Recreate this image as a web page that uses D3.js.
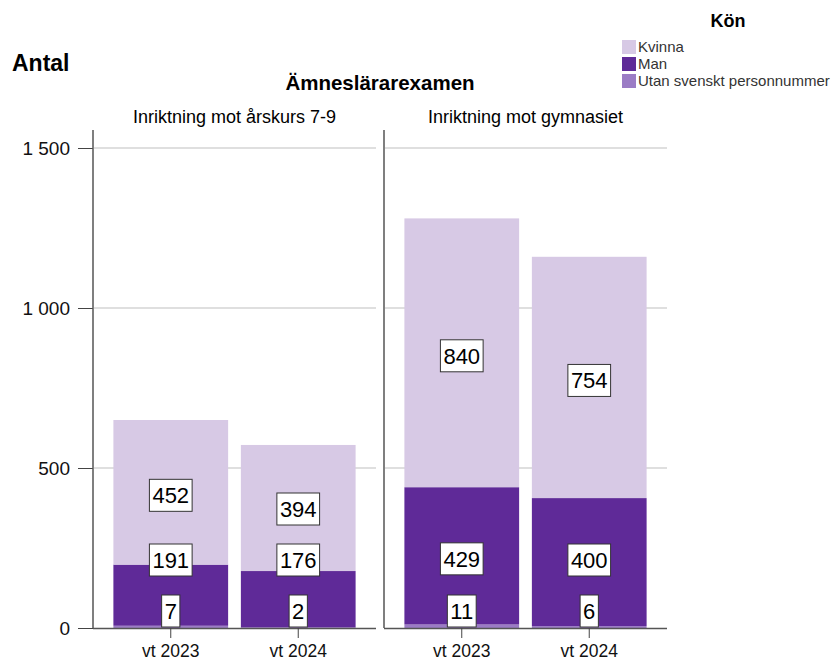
<!DOCTYPE html>
<html>
<head>
<meta charset="utf-8">
<script src="https://cdn.jsdelivr.net/npm/d3@7"></script>
<style>
  body { margin: 0; background: #fff; }
  text { font-family: "Liberation Sans", Arial, sans-serif; }
</style>
</head>
<body>
<div id="chart"></div>
<script>
var width = 833,
    height = 662;

// data
var panels = ["Inriktning mot årskurs 7-9", "Inriktning mot gymnasiet"];
var terms = ["vt 2023", "vt 2024"];
var genders = ["Utan svenskt personnummer", "Man", "Kvinna"];
var utan = [[7, 2], [11, 6]];
var man = [[191, 176], [429, 400]];
var kvinna = [[452, 394], [840, 754]];
var yTicks = [0, 500, 1000, 1500];

var colors = {
    "Kvinna": "#d7c9e5",
    "Man": "#5f2a98",
    "Utan svenskt personnummer": "#9b7cc5"
};

var svg = d3.select("#chart")
    .append("svg")
    .attr("width", width)
    .attr("height", height);

var y = d3.scaleLinear()
    .domain([0, 1500])
    .range([628, 148]);

var panelX = d3.scaleBand()
    .domain(panels)
    .range([93, 667])
    .paddingInner(0.0275);

// titles
svg.append("text")
    .attr("x", 12).attr("y", 71)
    .style("font-size", "23px").style("font-weight", "bold")
    .text("Antal");

svg.append("text")
    .attr("x", 380).attr("y", 90)
    .attr("text-anchor", "middle")
    .style("font-size", "20.5px").style("font-weight", "bold")
    .text("Ämneslärarexamen");

// y axis
var yAxis = d3.axisLeft(y)
    .tickValues(yTicks)
    .tickSize(15)
    .tickPadding(8)
    .tickFormat(function (d) { return d3.format(",")(d).replace(",", " "); });

var yg = svg.append("g")
    .attr("transform", "translate(93,0)")
    .call(yAxis);
yg.select(".domain").remove();
yg.selectAll(".tick line").attr("stroke", "#444");
yg.selectAll(".tick text")
    .style("font-size", "19px")
    .attr("fill", "#111")
    .attr("font-family", "Liberation Sans, Arial, sans-serif");

panels.forEach(function (p, pi) {
    var x0 = panelX(p);
    var w = panelX.bandwidth();
    var x = d3.scaleBand()
        .domain(terms)
        .range([x0, x0 + w])
        .paddingInner(0.1)
        .paddingOuter(0.16);

    var g = svg.append("g");

    // gridlines
    g.selectAll(".grid")
        .data(yTicks.filter(function (d) { return d > 0; }))
        .enter()
        .append("line")
        .attr("x1", x0 + 1).attr("x2", x0 + w)
        .attr("y1", function (d) { return y(d); })
        .attr("y2", function (d) { return y(d); })
        .attr("stroke", "#d4d4d4")
        .attr("stroke-width", 1.5);

    // panel title
    g.append("text")
        .attr("x", x0 + w / 2).attr("y", 123)
        .attr("text-anchor", "middle")
        .style("font-size", "18px")
        .text(p);

    // stacked bars
    var rows = terms.map(function (t, ti) {
        return {
            term: t,
            "Utan svenskt personnummer": utan[pi][ti],
            "Man": man[pi][ti],
            "Kvinna": kvinna[pi][ti]
        };
    });
    var stacked = d3.stack().keys(genders)(rows);

    stacked.forEach(function (layer) {
        g.selectAll(".seg-" + layer.index)
            .data(layer)
            .enter()
            .append("rect")
            .attr("x", function (d) { return x(d.data.term); })
            .attr("width", x.bandwidth())
            .attr("y", function (d) { return y(d[1]); })
            .attr("height", function (d) { return y(d[0]) - y(d[1]); })
            .attr("fill", colors[layer.key]);
    });

    // value labels, pushed up when they would collide
    terms.forEach(function (t, ti) {
        var prevTop = y(0);
        stacked.forEach(function (layer) {
            var d = layer[ti];
            var v = d[1] - d[0];
            var cy = (y(d[0]) + y(d[1])) / 2 + 3;
            var boxH = 32;
            var bottom = cy + boxH / 2;
            var limit = prevTop === y(0) ? y(0) - 1 : prevTop - 19;
            if (bottom > limit) bottom = limit;
            var top = bottom - boxH;
            prevTop = top;
            var cx = x(t) + x.bandwidth() / 2;
            var lbl = g.append("g");
            var txt = lbl.append("text")
                .attr("x", cx).attr("y", top + boxH / 2 + 8)
                .attr("text-anchor", "middle")
                .style("font-size", "22px")
                .attr("fill", "#000")
                .text(v);
            var tw = txt.node().getComputedTextLength();
            lbl.insert("rect", "text")
                .attr("x", cx - tw / 2 - 3)
                .attr("y", top)
                .attr("width", tw + 6)
                .attr("height", boxH)
                .attr("fill", "#fff")
                .attr("stroke", "#333")
                .attr("stroke-width", 1);
        });
    });

    // panel frame: left line and bottom axis
    g.append("line")
        .attr("x1", x0).attr("x2", x0)
        .attr("y1", 130).attr("y2", y(0))
        .attr("stroke", "#555").attr("stroke-width", 1.5);

    var xAxis = d3.axisBottom(x).tickSize(10).tickPadding(7).tickSizeOuter(0);
    var xg = g.append("g")
        .attr("transform", "translate(0," + y(0) + ")")
        .call(xAxis);
    xg.select(".domain")
        .attr("d", "M" + x0 + ",0.5H" + (x0 + w))
        .attr("stroke", "#555").attr("stroke-width", 1.5);
    xg.selectAll(".tick line").attr("stroke", "#444");
    xg.selectAll(".tick text")
        .style("font-size", "17.5px")
        .attr("fill", "#111")
        .attr("font-family", "Liberation Sans, Arial, sans-serif");
});

// legend
var legend = svg.append("g").attr("transform", "translate(622,0)");
legend.append("text")
    .attr("x", 106).attr("y", 27)
    .attr("text-anchor", "middle")
    .style("font-size", "18px").style("font-weight", "bold")
    .text("Kön");

var legendKeys = ["Kvinna", "Man", "Utan svenskt personnummer"];
legend.selectAll(".sw")
    .data(legendKeys)
    .enter()
    .append("rect")
    .attr("x", 0)
    .attr("y", function (d, i) { return 40 + i * 17; })
    .attr("width", 14).attr("height", 14)
    .attr("fill", function (d) { return colors[d]; });

legend.selectAll(".lt")
    .data(legendKeys)
    .enter()
    .append("text")
    .attr("x", 16)
    .attr("y", function (d, i) { return 52 + i * 17; })
    .style("font-size", "15px")
    .attr("fill", "#333")
    .text(function (d) { return d; });
</script>
</body>
</html>
